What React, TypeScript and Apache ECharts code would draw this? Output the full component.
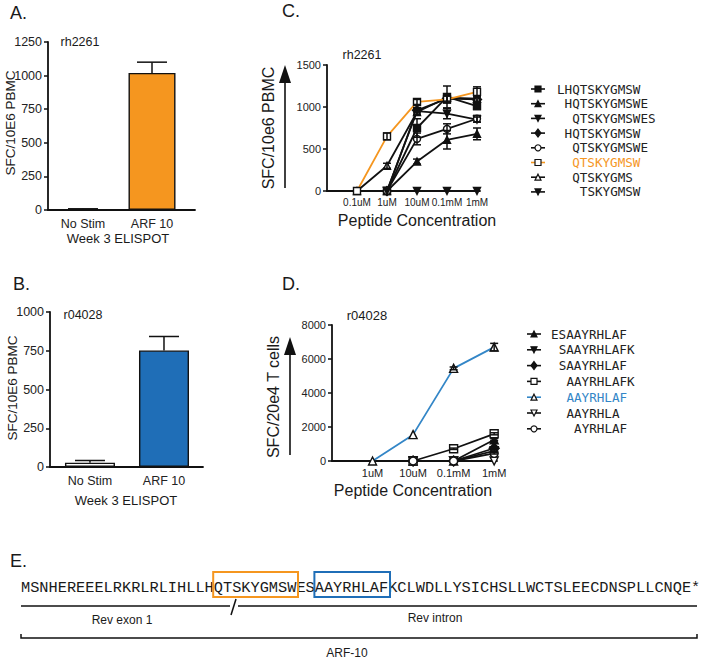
import React, { useEffect, useRef } from 'react';
import * as echarts from 'echarts';

// ---------- DATA ----------
const barCategories = ['No Stim', 'ARF 10'];
const barValuesA = [5, 1020];
const barErrorsA = [4, 80];
const barValuesB = [28, 752];
const barErrorsB = [14, 90];

const concC = ['0.1uM', '1uM', '10uM', '0.1mM', '1mM'];
const labelsC = ['LHQTSKYGMSW', 'HQTSKYGMSWE', 'QTSKYGMSWES', 'HQTSKYGMSW', 'QTSKYGMSWE', 'QTSKYGMSW', 'QTSKYGMS', 'TSKYGMSW'];
const symbolsC = ['rect', 'triangle', 'down', 'diamond', 'circle', 'rect', 'triangle', 'down'];
const filledC = [true, true, true, true, false, false, false, true];
const valuesC: (number | null)[][] = [
  [null, 0, 750, 1120, 1010],
  [null, 0, 350, 610, 680],
  [null, 0, 950, 920, 850],
  [null, 0, 960, 1100, 1090],
  [null, 0, 620, 740, 860],
  [0, 650, 1060, 1090, 1180],
  [0, 300, 940, 1110, 1100],
  [null, 0, 0, 0, 0],
];
const errorsC = [
  [0, 0, 110, 130, 40],
  [0, 0, 30, 110, 70],
  [0, 0, 40, 60, 30],
  [0, 0, 30, 40, 30],
  [0, 0, 70, 60, 40],
  [0, 40, 30, 40, 60],
  [0, 30, 30, 40, 30],
  [0, 0, 0, 0, 0],
];
const highlightC = 5;

const concD = ['1uM', '10uM', '0.1mM', '1mM'];
const labelsD = ['ESAAYRHLAF', 'SAAYRHLAFK', 'SAAYRHLAF', 'AAYRHLAFK', 'AAYRHLAF', 'AAYRHLA', 'AYRHLAF'];
const symbolsD = ['triangle', 'down', 'diamond', 'rect', 'triangle', 'down', 'circle'];
const filledD = [true, true, true, false, false, false, false];
const valuesD: (number | null)[][] = [
  [null, 0, 0, 1250],
  [null, 0, 0, 600],
  [null, 0, 0, 750],
  [null, 0, 720, 1600],
  [0, 1550, 5450, 6700],
  [null, 0, 0, 0],
  [null, 0, 0, 450],
];
const errorsD = [
  [0, 0, 0, 60],
  [0, 0, 0, 40],
  [0, 0, 0, 50],
  [0, 0, 40, 60],
  [0, 0, 80, 220],
  [0, 0, 0, 0],
  [0, 0, 0, 40],
];
const highlightD = 4;

const arfSequence = 'MSNHEREEELRKRLRLIHLLHQTSKYGMSWESAAYRHLAFKCLWDLLYSICHSLLWCTSLEECDNSPLLCNQE*';
const epitopeC = 'QTSKYGMSW';
const epitopeD = 'AAYRHLAF';

// ---------- STYLE ----------
const SANS = '"Liberation Sans", Arial, Helvetica, sans-serif';
const MONO = '"DejaVu Sans Mono", monospace';
const SEQMONO = '"Liberation Mono", "DejaVu Sans Mono", monospace';
const INK = '#111';
const ORANGE = '#F5961F';
const BLUE = '#1F6EB7';
const BLUE_LINE = '#3386C7';

const axisLine = { show: true, onZero: false, lineStyle: { color: INK, width: 1.8 } };

function yAxis(gridIndex: number, max: number, interval: number, fontSize: number) {
  return {
    type: 'value', gridIndex, min: 0, max, interval,
    axisLine, axisTick: { show: true, length: 4, lineStyle: { color: INK, width: 1.5 } },
    splitLine: { show: false },
    axisLabel: { color: '#222', fontSize, fontFamily: SANS, margin: 6, formatter: (v: number) => String(v) },
  };
}
function xAxis(gridIndex: number, min: number, max: number, labels: string[], fontSize: number, margin: number) {
  return {
    type: 'value', gridIndex, min, max,
    axisLine, axisTick: { show: false }, splitLine: { show: false },
    axisLabel: {
      color: '#222', fontSize, fontFamily: SANS, margin,
      customValues: labels.map((_, i) => i),
      formatter: (v: number) => labels[Math.round(v)] ?? '',
    },
  };
}

function errRender(capHalf: number, bothCaps: boolean) {
  return (params: any, api: any) => {
    const x = api.value(0), lo = api.value(1), hi = api.value(2);
    const a = api.coord([x, lo]);
    const b = api.coord([x, hi]);
    const style = { stroke: INK, lineWidth: 1.5 };
    const children: any[] = [
      { type: 'line', shape: { x1: a[0], y1: a[1], x2: b[0], y2: b[1] }, style },
      { type: 'line', shape: { x1: b[0] - capHalf, y1: b[1], x2: b[0] + capHalf, y2: b[1] }, style },
    ];
    if (bothCaps) children.push({ type: 'line', shape: { x1: a[0] - capHalf, y1: a[1], x2: a[0] + capHalf, y2: a[1] }, style });
    return { type: 'group', children };
  };
}

function lineSeries(idx: number, values: (number | null)[][], symbols: string[], filled: boolean[], hl: number, hlColor: string, axis: number, size: number) {
  return values.map((vals, i) => ({
    type: 'line', xAxisIndex: axis, yAxisIndex: axis,
    name: String(idx) + '-' + i,
    data: vals.map((v, j) => (v == null ? null : [j, v])).filter((d) => d !== null),
    symbol: symbols[i] === 'down' ? 'triangle' : symbols[i],
    symbolRotate: symbols[i] === 'down' ? 180 : 0,
    symbolSize: symbols[i] === 'diamond' ? size + 2 : size,
    showAllSymbol: true,
    lineStyle: { color: i === hl ? hlColor : INK, width: 1.8 },
    itemStyle: { color: filled[i] ? INK : '#fff', borderColor: INK, borderWidth: 1.4 },
    z: i === hl ? 6 : 3,
  }));
}

function errData(values: (number | null)[][], errors: number[][]) {
  const out: number[][] = [];
  values.forEach((vals, i) => vals.forEach((v, j) => {
    const e = errors[i][j];
    if (v != null && e > 0) out.push([j, v - e, v + e]);
  }));
  return out;
}

function legendMarker(kind: string, cx: number, cy: number, s: number, filled: boolean) {
  const style = { fill: filled ? INK : '#fff', stroke: INK, lineWidth: 1.2 };
  const h = s / 2;
  if (kind === 'rect') return { type: 'rect', shape: { x: cx - h, y: cy - h, width: s, height: s }, style, z: 10 };
  if (kind === 'circle') return { type: 'circle', shape: { cx, cy, r: h }, style, z: 10 };
  if (kind === 'triangle') return { type: 'polygon', shape: { points: [[cx, cy - h], [cx + h, cy + h], [cx - h, cy + h]] }, style, z: 10 };
  if (kind === 'down') return { type: 'polygon', shape: { points: [[cx, cy + h], [cx + h, cy - h], [cx - h, cy - h]] }, style, z: 10 };
  return { type: 'polygon', shape: { points: [[cx, cy - h - 1], [cx + h, cy], [cx, cy + h + 1], [cx - h, cy]] }, style, z: 10 };
}

function legend(labels: string[], symbols: string[], filled: boolean[], hl: number, hlColor: string,
  x0: number, y0: number, step: number, textX: number, charW: number) {
  const offs = labels.map((l) => arfSequence.indexOf(l));
  const minOff = Math.min(...offs);
  const els: any[] = [];
  labels.forEach((l, i) => {
    const y = y0 + i * step;
    const col = i === hl ? hlColor : INK;
    els.push({ type: 'line', shape: { x1: x0 - 7, y1: y, x2: x0 + 7, y2: y }, style: { stroke: col, lineWidth: 1.6 }, z: 9 });
    els.push(legendMarker(symbols[i], x0, y, 6, filled[i]));
    els.push({
      type: 'text', x: textX + (offs[i] - minOff) * charW, y,
      style: { text: l, fontFamily: MONO, fontSize: 12.6, fill: i === hl ? hlColor : '#222', align: 'left', verticalAlign: 'middle' },
    });
  });
  return els;
}

function txt(text: string, x: number, y: number, fontSize: number, opts: any = {}) {
  return {
    type: 'text', x, y, rotation: opts.rotation || 0,
    style: {
      text, fontFamily: opts.font || SANS, fontSize, fill: opts.fill || '#1a1a1a',
      align: opts.align || 'center', verticalAlign: opts.va || 'middle',
    },
  };
}

function arrow(x: number, yBottom: number, yTip: number) {
  return [
    { type: 'line', shape: { x1: x, y1: yBottom, x2: x, y2: yTip + 14 }, style: { stroke: INK, lineWidth: 1.6 } },
    { type: 'polygon', shape: { points: [[x, yTip], [x - 6, yTip + 18], [x + 6, yTip + 18]] }, style: { fill: INK } },
  ];
}

function panelE() {
  const seqX = 21, charW = 9.2;
  const els: any[] = [];
  els.push(txt(arfSequence, seqX, 588, 15.3, { font: SEQMONO, align: 'left', fill: '#1a1a1a' }));
  const box = (ep: string, color: string) => {
    const i = arfSequence.indexOf(ep);
    return {
      type: 'rect', shape: { x: seqX + i * charW - 1, y: 572, width: ep.length * charW + 2, height: 25 },
      style: { fill: 'none', stroke: color, lineWidth: 2 },
    };
  };
  els.push(box(epitopeC, ORANGE));
  els.push(box(epitopeD, BLUE));
  const ls = { stroke: INK, lineWidth: 1.5 };
  els.push({ type: 'line', shape: { x1: 21, y1: 606, x2: 230, y2: 606 }, style: ls });
  els.push({ type: 'line', shape: { x1: 231, y1: 615, x2: 236, y2: 599 }, style: ls });
  els.push({ type: 'line', shape: { x1: 238, y1: 606, x2: 697, y2: 606 }, style: ls });
  els.push({ type: 'polyline', shape: { points: [[21, 634], [21, 638], [697, 638], [697, 634]] }, style: { stroke: INK, lineWidth: 1.5, fill: 'none' } });
  els.push(txt('Rev exon 1', 122, 620, 12));
  els.push(txt('Rev intron', 435, 618, 12));
  els.push(txt('ARF-10', 347, 653, 12));
  return els;
}

const option: any = {
  animation: false,
  backgroundColor: '#fff',
  textStyle: { fontFamily: SANS },
  grid: [
    { left: 48, top: 42, width: 147, height: 168 },
    { left: 50, top: 312, width: 153, height: 155 },
    { left: 327, top: 65, width: 153, height: 126 },
    { left: 332, top: 325, width: 165, height: 136 },
  ],
  xAxis: [
    xAxis(0, -0.507, 1.623, barCategories, 12.5, 7),
    xAxis(1, -0.54, 1.527, barCategories, 12.5, 7),
    xAxis(2, -1, 4.1, concC, 10, 6),
    xAxis(3, -1, 3.07, concD, 11, 6),
  ],
  yAxis: [
    yAxis(0, 1250, 250, 12.5),
    yAxis(1, 1000, 250, 12.5),
    yAxis(2, 1500, 500, 11),
    yAxis(3, 8000, 2000, 11),
  ],
  series: [
    {
      type: 'bar', xAxisIndex: 0, yAxisIndex: 0, barWidth: 47,
      data: barValuesA.map((v, i) => ({ value: [i, v], itemStyle: { color: i === 0 ? '#fff' : ORANGE, borderColor: INK, borderWidth: 1.4 } })),
    },
    {
      type: 'custom', xAxisIndex: 0, yAxisIndex: 0, renderItem: errRender(15, false), z: 10,
      encode: { x: 0, y: [1, 2] },
      data: barValuesA.map((v, i) => [i, v, v + barErrorsA[i]]),
    },
    {
      type: 'bar', xAxisIndex: 1, yAxisIndex: 1, barWidth: 50,
      data: barValuesB.map((v, i) => ({ value: [i, v], itemStyle: { color: i === 0 ? '#fff' : BLUE, borderColor: INK, borderWidth: 1.4 } })),
    },
    {
      type: 'custom', xAxisIndex: 1, yAxisIndex: 1, renderItem: errRender(15, false), z: 10,
      encode: { x: 0, y: [1, 2] },
      data: barValuesB.map((v, i) => [i, v, v + barErrorsB[i]]),
    },
    ...lineSeries(2, valuesC, symbolsC, filledC, highlightC, ORANGE, 2, 7),
    {
      type: 'custom', xAxisIndex: 2, yAxisIndex: 2, renderItem: errRender(4, true), z: 8,
      encode: { x: 0, y: [1, 2] },
      data: errData(valuesC, errorsC),
    },
    ...lineSeries(3, valuesD, symbolsD, filledD, highlightD, BLUE_LINE, 3, 8),
    {
      type: 'custom', xAxisIndex: 3, yAxisIndex: 3, renderItem: errRender(4, true), z: 8,
      encode: { x: 0, y: [1, 2] },
      data: errData(valuesD, errorsD),
    },
  ],
  graphic: [
    // panel letters
    txt('A.', 10, 4, 18, { align: 'left', va: 'top' }),
    txt('B.', 13, 275, 18, { align: 'left', va: 'top' }),
    txt('C.', 282, 2, 18, { align: 'left', va: 'top' }),
    txt('D.', 282, 275, 18, { align: 'left', va: 'top' }),
    txt('E.', 10, 552, 18, { align: 'left', va: 'top' }),
    // panel A
    txt('rh2261', 80, 42, 12.5),
    txt('SFC/10E6 PBMC', 10, 123, 13.5, { rotation: Math.PI / 2 }),
    txt('Week 3 ELISPOT', 118, 238, 13),
    // panel B
    txt('r04028', 83, 315, 12.5),
    txt('SFC/10E6 PBMC', 12, 388, 13.5, { rotation: Math.PI / 2 }),
    txt('Week 3 ELISPOT', 126, 500, 13),
    // panel C
    txt('rh2261', 362, 55, 12.5),
    txt('SFC/10e6 PBMC', 268, 128, 16, { rotation: Math.PI / 2 }),
    ...arrow(285, 188, 65),
    txt('Peptide Concentration', 417, 220, 16),
    ...legend(labelsC, symbolsC, filledC, highlightC, ORANGE, 538, 89, 14.7, 557, 7.6),
    // panel D
    txt('r04028', 367, 315, 13),
    txt('SFC/20e4 T cells', 273, 397, 16, { rotation: Math.PI / 2 }),
    ...arrow(290, 455, 337),
    txt('Peptide Concentration', 413, 490, 16),
    ...legend(labelsD, symbolsD, filledD, highlightD, BLUE_LINE, 534, 334, 15.8, 551, 7.7),
    // panel E
    ...panelE(),
  ],
};

export default function App() {
  const ref = useRef<HTMLDivElement>(null);
  useEffect(() => {
    const chart = echarts.init(ref.current!, null, { renderer: 'svg' });
    chart.setOption(option);
    return () => chart.dispose();
  }, []);
  return (
    <div
      ref={ref}
      style={{ position: 'absolute', left: 0, top: 0, width: 707, height: 661, background: '#fff' }}
    />
  );
}
